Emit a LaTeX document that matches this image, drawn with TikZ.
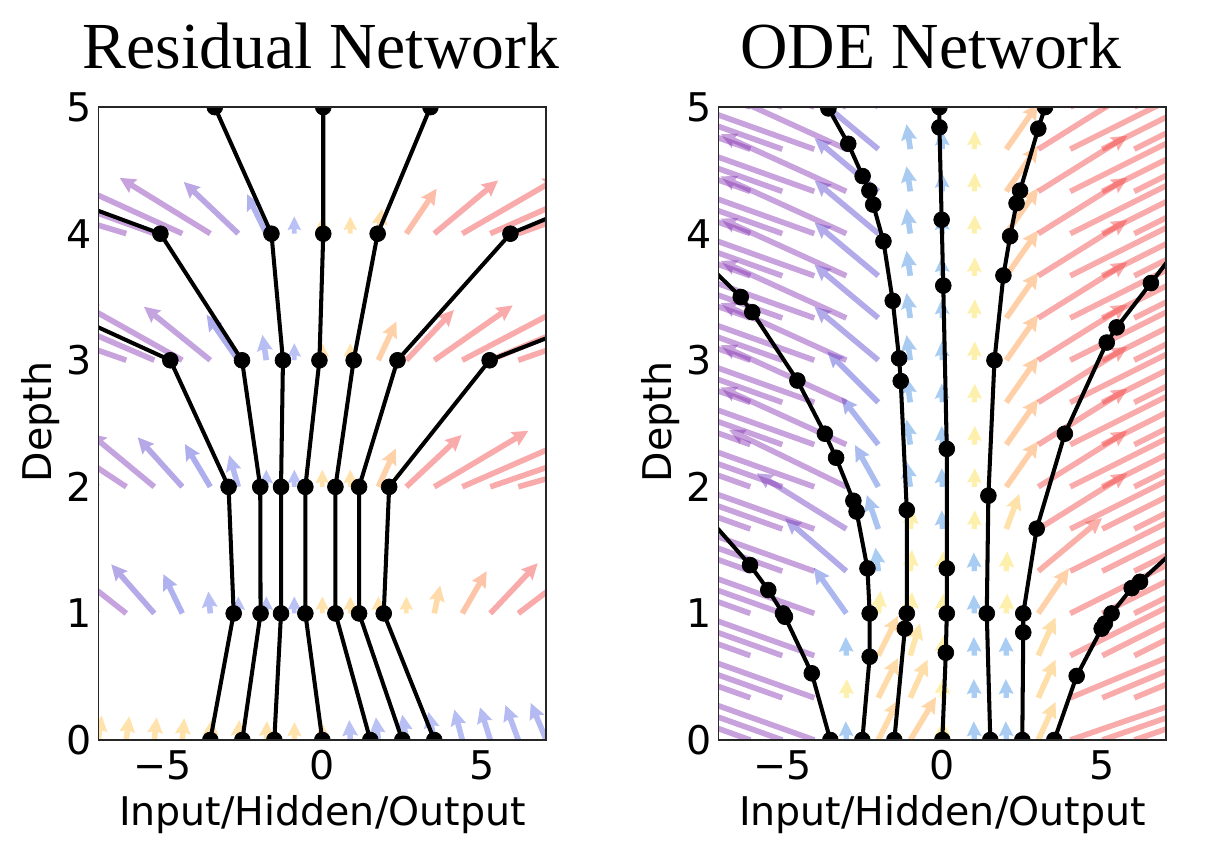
\documentclass[tikz,border=0pt]{standalone}
\usepackage{fontspec}
\setmainfont{Liberation Serif}
\newfontfamily\plotfont{DejaVu Sans}

\definecolor{qpurple}{RGB}{133,48,177}
\definecolor{qviolet}{RGB}{72,72,215}
\definecolor{qskyode}{RGB}{64,144,226}
\definecolor{qskyres}{RGB}{100,118,232}
\definecolor{qyelode}{RGB}{250,222,70}
\definecolor{qyelres}{RGB}{255,190,70}
\definecolor{qorange}{RGB}{255,151,62}
\definecolor{qred}{RGB}{242,66,66}

% colour of one field arrow from its slope value
\newcommand\setqcol[1]{%
  \pgfmathsetmacro\qval{#1}%
  \ifdim\qval pt<0pt
    \ifdim\qval pt<-1pt
      \pgfmathtruncatemacro\qp{max(0,min(100,100*(\qval+2)))}%
      \colorlet{qc}{qviolet!\qp!qpurple}%
    \else
      \pgfmathtruncatemacro\qp{max(0,min(100,100*(\qval+1)/0.9))}%
      \colorlet{qc}{qsky!\qp!qviolet}%
    \fi
  \else
    \ifdim\qval pt<0.7pt
      \pgfmathtruncatemacro\qp{max(0,min(100,100*(\qval-0.1)/0.6))}%
      \colorlet{qc}{qorange!\qp!qyellow}%
    \else
      \pgfmathtruncatemacro\qp{max(0,min(100,100*(\qval-0.7)/0.6))}%
      \colorlet{qc}{qred!\qp!qorange}%
    \fi
  \fi}

% quiver arrow: tail x, tail y (px), screen slope dx/dy, colour value
\newcommand\quiv[4]{%
  \pgfmathsetmacro\qtx{#1}%
  \pgfmathsetmacro\qty{#2}%
  \pgfmathsetmacro\qlen{min(17+55*abs(#3),190)}%
  \pgfmathsetmacro\qang{90-atan(#3)}%
  \pgfmathsetmacro\qhl{min(16,0.8*\qlen)}%
  \pgfmathsetmacro\qhw{0.5*\qhl}%
  \pgfmathsetmacro\qsw{2.8*\qhl/16}%
  \setqcol{#4}%
  \fill[qc, fill opacity=0.45, shift={(\qtx,\qty)}, rotate=\qang]
    (0,-\qsw) -- ({\qlen-0.9*\qhl},-\qsw) -- ({\qlen-\qhl},-\qhw) -- (\qlen,0)
    -- ({\qlen-\qhl},\qhw) -- ({\qlen-0.9*\qhl},\qsw) -- (0,\qsw) -- cycle;
}

\tikzset{
  traj/.style={black, line width=2.3pt, mark=*, mark size=4.5pt, mark options={line width=0.4pt}},
  axframe/.style={draw=black!85, line width=0.8pt},
  ticklab/.style={font=\plotfont\fontsize{22.5}{25}\selectfont, inner sep=0pt},
  axlab/.style={font=\plotfont\fontsize{22.5}{25}\selectfont, inner sep=0pt},
  titlelab/.style={font=\fontsize{37.4}{40}\selectfont, inner sep=0pt},
  declare function={odes(\ox,\ok)= (\ox<-3.5) ? -2.8 :
    ((\ox<-2.5) ? ((\ok<2.5) ? ((\ok==1) ? 0.03 : -0.03) : max(-2.2,-0.71-0.45*(\ok-3))) :
    ((\ox<-1.5) ? ((\ok<2.5) ? 0.5 : max(-1.2,0.1-0.22*(\ok-3))) :
    ((\ox<-0.5) ? ((\ok<2.5) ? 0.6-0.15*\ok : ((\ok<5.5) ? 0.08 : -0.15)) :
    ((\ox<0.5) ? ((\ok<4.5) ? 0.05 : -0.03) :
    ((\ox<1.5) ? ((\ok<4.5) ? -0.03 : 0.03) :
    ((\ox<2.5) ? ((\ok<2.5) ? -0.03 : ((\ok<4.5) ? 0.05 : ((\ok<5.5) ? 0.37 : 0.7))) :
    ((\ox<3.5) ? ((\ok<2.5) ? 0.45 : ((\ok<3.5) ? 0.68 : ((\ok<4.5) ? 1.2 : 1.6))) :
    max(2.0,2.9-0.5*\ok))))))));}
}

\begin{document}
\begin{tikzpicture}[x=0.02cm, y=0.02cm]
\useasboundingbox (0,0) rectangle (1226,860);

% residual network
\begin{scope}
  \clip (98.7,120) rectangle (546,753);
  \colorlet{qsky}{qskyres}\colorlet{qyellow}{qyelres}
  \foreach \rw/\ra/\rx/\la/\lx in {0/-0.06/0/-0.02/0, 1/0.42/3.0/0.45/-3.3,
      2/0.7/1.1/0.35/-1.8, 3/0.55/0.9/0.62/-1.5, 4/0.6/1.5/0.65/-1.0}
    \foreach \i in {0,...,16}{
      \pgfmathsetmacro\hx{-7+0.875*\i}
      \pgfmathsetmacro\hs{(\hx>\rx) ? \ra*(\hx-(\rx)) : ((\hx<\lx) ? \la*(\hx-(\lx)) : 0)}
      \quiv{322.3+32*(\hx)}{120+126.6*\rw}{\hs}{1.4*(\hs)+0.02*(\hx)}
    }
  \begin{scope}[shift={(322.3,120)}, x=0.64cm, y=2.532cm]
    \draw[traj] plot coordinates {(-3.5,0) (-2.77,1) (-2.93,2) (-4.75,3) (-13.4,4)};
    \draw[traj] plot coordinates {(-2.5,0) (-1.93,1) (-1.94,2) (-2.51,3) (-5.06,4) (-15.8,5)};
    \draw[traj] plot coordinates {(-1.5,0) (-1.29,1) (-1.29,2) (-1.23,3) (-1.59,4) (-3.36,5)};
    \draw[traj] plot coordinates {(0,0) (-0.53,1) (-0.53,2) (-0.09,3) (0.03,4) (0.03,5)};
    \draw[traj] plot coordinates {(1.5,0) (0.41,1) (0.41,2) (0.98,3) (1.73,4) (3.38,5)};
    \draw[traj] plot coordinates {(2.5,0) (1.15,1) (1.15,2) (2.35,3) (5.88,4) (15.4,5)};
    \draw[traj] plot coordinates {(3.5,0) (1.92,1) (2.09,2) (5.23,3) (15.4,4)};
  \end{scope}
\end{scope}
\draw[axframe] (98.7,120) rectangle (546,753);

% ODE network
\begin{scope}
  \clip (718.7,120) rectangle (1166,753);
  \colorlet{qsky}{qskyode}\colorlet{qyellow}{qyelode}
  \foreach \k in {0,...,15}
    \foreach \hc in {-7,...,7}{
      \pgfmathsetmacro\hs{odes(\hc,\k)}
      \quiv{942.3+32*(\hc)}{120+42.2*\k}{\hs}{\hs}
    }
  \begin{scope}[shift={(942.3,120)}, x=0.64cm, y=2.532cm]
    \draw[traj] plot coordinates {(-3.5,0) (-4.08,0.527) (-4.92,0.974) (-4.98,1.0) (-5.44,1.185)
      (-6.01,1.382) (-8,1.95)};
    \draw[traj] plot coordinates {(-2.5,0) (-2.27,0.658) (-2.27,1.0) (-2.34,1.356) (-2.68,1.805)
      (-2.78,1.89) (-3.32,2.23) (-3.67,2.42) (-4.53,2.84) (-5.94,3.38) (-6.3,3.5) (-8,3.92)};
    \draw[traj] plot coordinates {(-1.5,0) (-1.17,0.88) (-1.11,1.0) (-1.11,1.817) (-1.3,2.836)
      (-1.35,3.015) (-1.55,3.47) (-1.84,3.94) (-2.16,4.23) (-2.28,4.34) (-2.49,4.455)
      (-2.94,4.71) (-3.56,4.99) (-3.8,5.1)};
    \draw[traj] plot coordinates {(0,0) (0.11,0.69) (0.14,1.0) (0.14,1.356) (0.14,2.30)
      (0.03,3.59) (-0.02,4.11) (-0.09,4.84) (-0.09,5.0)};
    \draw[traj] plot coordinates {(1.5,0) (1.39,1.0) (1.44,1.93) (1.63,3.0) (1.91,3.67)
      (2.12,3.98) (2.32,4.24) (2.43,4.34) (3.0,4.83) (3.21,5.0)};
    \draw[traj] plot coordinates {(2.5,0) (2.53,0.85) (2.53,1.0) (2.95,1.67) (3.83,2.42)
      (5.14,3.14) (5.45,3.26) (6.52,3.61) (8,4.1)};
    \draw[traj] plot coordinates {(3.5,0) (4.2,0.506) (4.98,0.88) (5.08,0.92) (5.29,1.0)
      (5.92,1.2) (6.18,1.25) (8,1.67)};
  \end{scope}
\end{scope}
\draw[axframe] (718.7,120) rectangle (1166,753);

% titles, ticks and labels
\node[titlelab, anchor=base] (restitle) at (321,791) {Residual Network};
\node[titlelab, anchor=base] (odetitle) at (931,791) {ODE Network};
\foreach \v/\lab/\nm in {-5/−5/a, 0/0/b, 5/5/c}{
  \node[ticklab, anchor=base] (resx\nm) at ({322.3+32*\v},81) {\lab};
  \node[ticklab, anchor=base] (odex\nm) at ({942.3+32*\v},81) {\lab};
}
\foreach \d in {0,...,5}{
  \node[ticklab, anchor=east] (resy\d) at (92,{120+126.6*\d}) {\d};
  \node[ticklab, anchor=east] (odey\d) at (712,{120+126.6*\d}) {\d};
}
\node[axlab, anchor=base] (resxlab) at (322.3,35) {Input/Hidden/Output};
\node[axlab, anchor=base] (odexlab) at (942.3,35) {Input/Hidden/Output};
\node[axlab, anchor=base, rotate=90] (resylab) at (51.7,438) {Depth};
\node[axlab, anchor=base, rotate=90] (odeylab) at (671.7,438) {Depth};
\end{tikzpicture}
\end{document}
